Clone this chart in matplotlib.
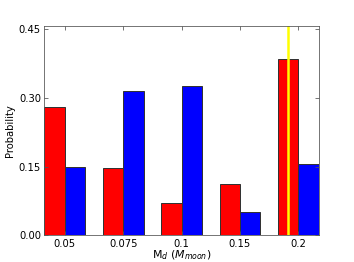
import matplotlib
matplotlib.use('Agg')
import matplotlib.pyplot as plt
import numpy as np

# data
categories = ['0.05', '0.075', '0.1', '0.15', '0.2']
red_vals = [0.280, 0.146, 0.071, 0.113, 0.385]
blue_vals = [0.149, 0.315, 0.327, 0.051, 0.156]
marker_x = 3.83  # yellow line position (category units)

fig = plt.figure(figsize=(354/72, 262/72), dpi=72)
ax = fig.add_axes([0.1257, 0.1019, 0.7746, 0.8000])

x = np.arange(len(categories))
w = 0.35
ax.bar(x - w, red_vals, w, align='edge', color='red', edgecolor='#333333', linewidth=1)
ax.bar(x, blue_vals, w, align='edge', color='blue', edgecolor='#333333', linewidth=1)
ax.axvline(marker_x, color='yellow', linewidth=2.5)

ax.set_xlim(-0.35, 4.35)
ax.set_ylim(0, 0.458)
ax.set_xticks(x)
ax.set_xticklabels(categories, fontsize=10)
ax.set_yticks([0, 0.15, 0.30, 0.45])
ax.set_yticklabels(['0.00', '0.15', '0.30', '0.45'], fontsize=10)
ax.tick_params(direction='in', top=True, right=True, length=4, color='#555555')
for s in ax.spines.values():
    s.set_color('#555555')

ax.set_xlabel(r'M$_d$ ($M_{moon}$)', fontsize=11, labelpad=-0.5)
ax.set_ylabel('Probability', fontsize=10)

fig.savefig('out.png', dpi=72)
